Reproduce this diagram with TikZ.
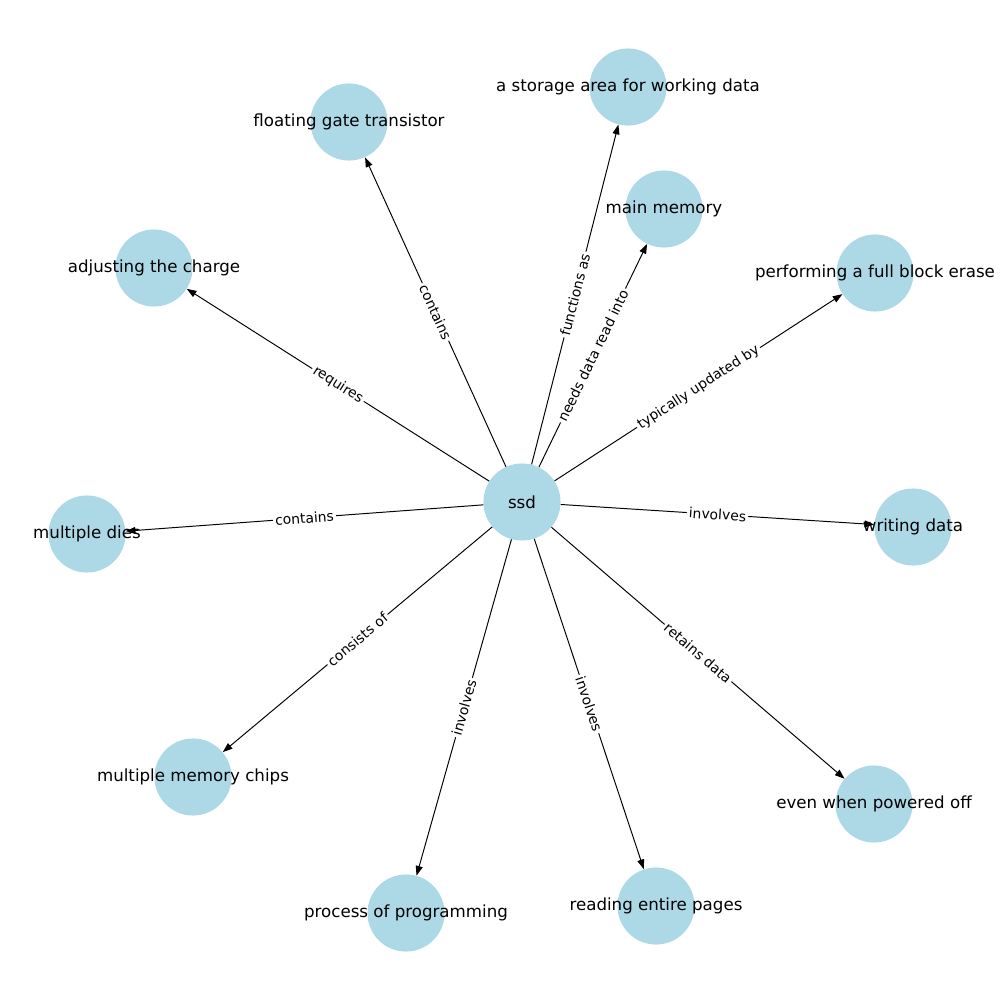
\documentclass[tikz,border=0pt]{standalone}
\usepackage{fontspec}
\setmainfont{DejaVu Sans}
\usetikzlibrary{arrows.meta}
\definecolor{lblue}{HTML}{ADD8E6}
\tikzset{
  dot/.style={circle, fill=lblue, draw=none, minimum size=55.5pt, inner sep=0pt},
  txt/.style={font=\fontsize{12}{14}\selectfont, inner sep=0pt},
  conn/.style={-{Triangle[length=7pt,width=5pt]}, line width=0.7pt, black},
  elab/.style={sloped, fill=white, rounded corners=2pt, inner sep=1.5pt, font=\fontsize{10}{12}\selectfont, midway}
}
\begin{document}
\begin{tikzpicture}[x=0.72pt, y=-0.72pt]
\useasboundingbox (0,0) rectangle (1000,1000);
% circles
\node[dot] (ssd) at (522,502) {};
\node[dot] (sto) at (628,87) {};
\node[dot] (flo) at (349,122) {};
\node[dot] (mem) at (664,209) {};
\node[dot] (adj) at (154,268) {};
\node[dot] (per) at (875,273) {};
\node[dot] (die) at (87,534) {};
\node[dot] (wri) at (913,527) {};
\node[dot] (chi) at (193,777) {};
\node[dot] (eve) at (874,804) {};
\node[dot] (pro) at (406,913) {};
\node[dot] (rea) at (656,906) {};
% edges
\draw[conn] (ssd) -- node[elab] {functions as} (sto);
\draw[conn] (ssd) -- node[elab] {contains} (flo);
\draw[conn] (ssd) -- node[elab] {needs data read into} (mem);
\draw[conn] (ssd) -- node[elab] {requires} (adj);
\draw[conn] (ssd) -- node[elab] {typically updated by} (per);
\draw[conn] (ssd) -- node[elab] {contains} (die);
\draw[conn] (ssd) -- node[elab] {involves} (wri);
\draw[conn] (ssd) -- node[elab] {consists of} (chi);
\draw[conn] (ssd) -- node[elab] {retains data} (eve);
\draw[conn] (ssd) -- node[elab] {involves} (pro);
\draw[conn] (ssd) -- node[elab] {involves} (rea);
% labels
\node[txt] (ssd-t) at (ssd) {ssd};
\node[txt] (sto-t) at (sto) {a storage area for working data};
\node[txt] (flo-t) at (flo) {floating gate transistor};
\node[txt] (mem-t) at (mem) {main memory};
\node[txt] (adj-t) at (adj) {adjusting the charge};
\node[txt] (per-t) at (per) {performing a full block erase};
\node[txt] (die-t) at (die) {multiple dies};
\node[txt] (wri-t) at (wri) {writing data};
\node[txt] (chi-t) at (chi) {multiple memory chips};
\node[txt] (eve-t) at (eve) {even when powered off};
\node[txt] (pro-t) at (pro) {process of programming};
\node[txt] (rea-t) at (rea) {reading entire pages};
\end{tikzpicture}
\end{document}
